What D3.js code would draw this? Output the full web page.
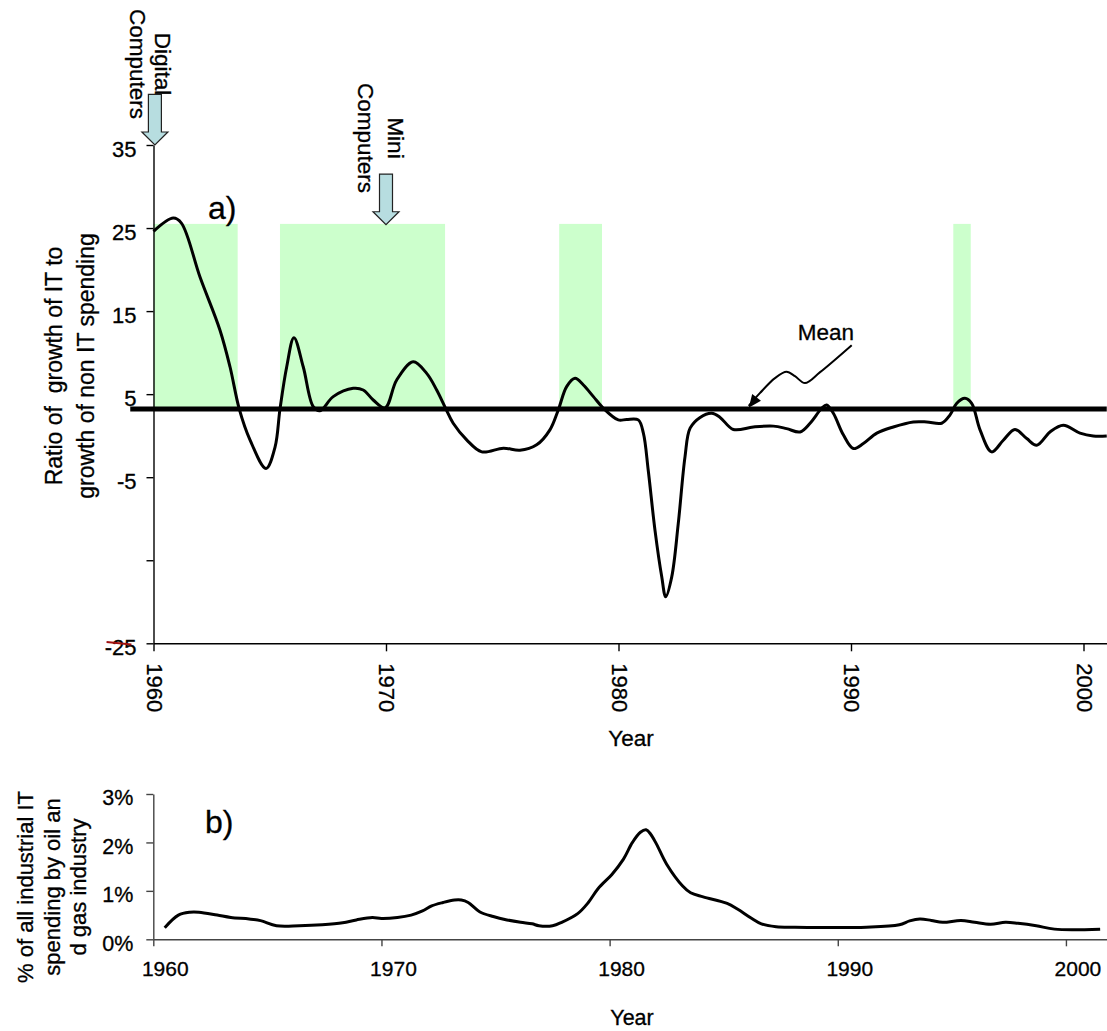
<!DOCTYPE html>
<html>
<head>
<meta charset="utf-8">
<script src="https://cdn.jsdelivr.net/npm/d3@7"></script>
<style>
body { margin: 0; background: #fff; }
svg text { font-family: "Liberation Sans", Arial, sans-serif; fill: #000; white-space: pre;
  stroke: #000; stroke-width: 0.3px; }
</style>
</head>
<body>
<div id="content"></div>
<script>
const W = 1107, H = 1031;

// ---- panel a) ratio of IT growth to non-IT growth
const yearsA = [1960.0, 1960.85, 1961.2, 1962.0, 1962.86, 1963.29, 1963.69, 1964.15, 1964.84, 1965.23,
  1965.44, 1965.73, 1966.04, 1966.44, 1966.87, 1967.16, 1967.73, 1968.59, 1969.02, 1969.45,
  1969.96, 1970.46, 1971.17, 1971.75, 1972.18, 1972.58, 1972.89, 1973.47, 1974.12, 1975.05,
  1975.76, 1976.48, 1977.05, 1977.41, 1977.77, 1978.13, 1978.49, 1978.92, 1979.35, 1979.99,
  1980.35, 1980.85, 1981.07, 1981.28, 1981.57, 1981.86, 1982.03, 1982.29, 1982.57, 1982.86,
  1983.08, 1983.51, 1984.01, 1984.37, 1984.94, 1985.80, 1986.66, 1987.23, 1987.81, 1988.24,
  1988.74, 1988.95, 1989.24, 1989.67, 1990.10, 1990.53, 1991.11, 1991.82, 1992.68, 1993.26,
  1993.90, 1994.26, 1994.55, 1994.90, 1995.19, 1995.55, 1996.05, 1996.55, 1997.05, 1997.56,
  1997.99, 1998.56, 1999.13, 1999.85, 2000.42, 2001.0];
const ratio = [24.6, 26.2, 25.6, 19.1, 12.7, 8.3, 3.2, -0.5, -3.95, -1.35,
  3.2, 8.3, 11.8, 8.3, 3.5, 3.0, 4.7, 5.7, 5.5, 4.3,
  3.35, 6.7, 8.9, 7.5, 5.5, 3.2, 1.5, -0.5, -1.95, -1.5,
  -1.75, -1.1, 0.7, 3.1, 5.9, 6.9, 6.1, 4.7, 3.3, 1.9,
  1.95, 1.9, 0.3, -4.2, -11.4, -17.0, -19.4, -17.0, -10.6, -2.55,
  0.9, 2.2, 2.7, 2.2, 0.75, 1.05, 1.15, 0.85, 0.45, 1.5,
  3.3, 3.7, 2.7, 0.1, -1.55, -0.95, 0.3, 1.05, 1.65, 1.65,
  1.5, 2.5, 3.9, 4.5, 3.9, 0.7, -1.95, -0.55, 0.75, -0.35,
  -1.15, 0.45, 1.25, 0.3, -0.05, -0.05];
const meanRatio = 3.2;
const bandStart = [1960.0, 1965.44, 1977.45, 1994.4];
const bandEnd = [1963.62, 1972.54, 1979.29, 1995.15];
const bandTop = 25.5;
const yTicksA = [35, 25, 15, 5, -5, -15, -25];
const yLabelsA = ["35", "25", "15", "5", "-5", "", "-25"];
const xTicksA = [1960, 1970, 1980, 1990, 2000];

// arrows: year, tip value, tail value, text lines
const arrowYear = [1960.06, 1970.0];
const arrowTip = [35, 25.4];
const arrowTail = [41.1, 31.5];
const arrowText = [["Digital", "Computers"], ["Mini", "Computers"]];
const meanArrowYears = [1990.03, 1988.67, 1988.02, 1987.59, 1987.23, 1986.73, 1986.08, 1985.6];
const meanArrowVals = [10.9, 7.65, 6.33, 7.17, 7.69, 6.93, 5.12, 3.6];

// ---- panel b) oil & gas share of industrial IT spending (%)
const yearsB = [1960.5, 1961.1, 1961.6, 1962.0, 1962.8, 1963.4, 1964.2, 1964.7, 1965.4, 1966.4,
  1967.4, 1968.3, 1968.9, 1969.6, 1970.0, 1970.7, 1971.3, 1971.8, 1972.2, 1972.7,
  1973.2, 1973.5, 1973.8, 1974.3, 1974.9, 1975.5, 1976.1, 1976.6, 1976.9, 1977.5,
  1977.9, 1978.6, 1979.05, 1979.5, 1980.1, 1980.6, 1981.0, 1981.35, 1981.6, 1981.8,
  1982.05, 1982.5, 1983.2, 1983.55, 1984.1, 1985.15, 1985.6, 1986.2, 1986.65, 1987.3,
  1988.1, 1991.25, 1992.7, 1993.15, 1993.6, 1994.1, 1994.6, 1995.4, 1996.0, 1996.7,
  1997.35, 1997.9, 1998.7, 1999.5, 2001.5];
const share = [0.24, 0.50, 0.56, 0.56, 0.50, 0.45, 0.42, 0.385, 0.28, 0.28,
  0.30, 0.34, 0.40, 0.45, 0.43, 0.45, 0.50, 0.585, 0.69, 0.76,
  0.81, 0.81, 0.76, 0.57, 0.47, 0.40, 0.35, 0.32, 0.28, 0.28,
  0.35, 0.53, 0.75, 1.05, 1.34, 1.65, 2.0, 2.21, 2.26, 2.17,
  1.97, 1.55, 1.10, 0.96, 0.875, 0.74, 0.625, 0.44, 0.32, 0.26,
  0.25, 0.25, 0.30, 0.38, 0.42, 0.39, 0.35, 0.39, 0.35, 0.31,
  0.35, 0.33, 0.28, 0.21, 0.21];
const yTicksB = [0, 1, 2, 3];
const xTicksB = [1960, 1970, 1980, 1990, 2000];

let svg = d3.select("#content").append("svg")
  .attr("width", W).attr("height", H);

// scales
const xa = d3.scaleLinear().domain([1960, 2001]).range([153.5, 1106.75]);
const ya = d3.scaleLinear().domain([-25, 35]).range([643.3, 145]);
const xb = d3.scaleLinear().domain([1960, 2001.8]).range([153.3, 1107]);
const yb = d3.scaleLinear().domain([0, 3]).range([939.3, 794]);

// ================= panel a =================
let ga = svg.append("g");

ga.selectAll("rect.band")
  .data(bandStart)
  .enter().append("rect")
  .attr("class", "band")
  .attr("x", (d) => xa(d))
  .attr("width", (d, i) => xa(bandEnd[i]) - xa(d))
  .attr("y", ya(bandTop))
  .attr("height", ya(meanRatio) - ya(bandTop))
  .attr("fill", "#ccffcc");

// axes
let axYa = ga.append("g").attr("transform", "translate(" + xa(1960) + ",0)")
  .call(d3.axisLeft(ya).tickValues(yTicksA).tickSize(7).tickSizeOuter(0).tickPadding(10)
    .tickFormat((d, i) => yLabelsA[i]));
axYa.selectAll("text").style("font-size", "22px").attr("dy", "0.5em");

let axXa = ga.append("g").attr("transform", "translate(0," + ya(-25) + ")")
  .call(d3.axisBottom(xa).tickValues(xTicksA).tickSize(8).tickSizeOuter(0).tickFormat(d3.format("d")));
axXa.selectAll("text")
  .style("font-size", "22px")
  .style("text-anchor", "start")
  .attr("transform", "rotate(90)")
  .attr("x", 20).attr("y", 0).attr("dy", "0.33em");

ga.selectAll(".domain, .tick line").attr("stroke", "#000").attr("stroke-width", 1.4);

// stray red mark over the -25 label
ga.append("line")
  .attr("x1", xa(1957.98)).attr("y1", ya(-24.85))
  .attr("x2", xa(1959.05)).attr("y2", ya(-25.15))
  .attr("stroke", "#a01010").attr("stroke-width", 2);

// mean line
ga.append("line")
  .attr("x1", xa(1959.0)).attr("x2", xa(2001))
  .attr("y1", ya(meanRatio)).attr("y2", ya(meanRatio))
  .attr("stroke", "#000").attr("stroke-width", 5);

// ratio line
const lineA = d3.line()
  .x((d, i) => xa(yearsA[i]))
  .y((d) => ya(d))
  .curve(d3.curveCatmullRom.alpha(0.5));
ga.append("path")
  .datum(ratio)
  .attr("d", lineA)
  .attr("fill", "none")
  .attr("stroke", "#000")
  .attr("stroke-width", 3)
  .attr("stroke-linejoin", "round");

// block arrows with labels
arrowYear.forEach((yr, i) => {
  const cx = xa(yr), tip = ya(arrowTip[i]), tail = ya(arrowTail[i]);
  const sw = 6.5, hw = 13, hh = 13;
  const pts = [[cx - sw, tail], [cx + sw, tail], [cx + sw, tip - hh], [cx + hw, tip - hh],
    [cx, tip], [cx - hw, tip - hh], [cx - sw, tip - hh]];
  ga.append("polygon")
    .attr("points", pts.map((p) => p.join(",")).join(" "))
    .attr("fill", "#b7dde0")
    .attr("stroke", "#222")
    .attr("stroke-width", 1.2);
});

// Digital / Mini Computers (rotated text, lines stacked right to left)
const labelPos = [[155, 64, 25], [388, 138, 30]];
arrowText.forEach((lines, i) => {
  let t = ga.append("text")
    .attr("transform", "translate(" + labelPos[i][0] + "," + labelPos[i][1] + ") rotate(90)")
    .style("font-size", "22.5px")
    .style("text-anchor", "middle");
  lines.forEach((s, j) => {
    t.append("tspan").attr("x", 0).attr("y", j * labelPos[i][2]).text(s);
  });
});

ga.append("text")
  .attr("x", 208).attr("y", 219)
  .style("font-size", "32px")
  .text("a)");

// Mean annotation
const meanLine = d3.line()
  .x((d, i) => xa(meanArrowYears[i]))
  .y((d) => ya(d))
  .curve(d3.curveCatmullRom.alpha(0.5));
ga.append("path")
  .datum(meanArrowVals)
  .attr("d", meanLine)
  .attr("fill", "none")
  .attr("stroke", "#000")
  .attr("stroke-width", 2);
{
  const n = meanArrowVals.length;
  const tx = xa(meanArrowYears[n - 1]), ty = ya(meanArrowVals[n - 1]) + 2;
  const px = xa(meanArrowYears[n - 2]), py = ya(meanArrowVals[n - 2]);
  const ang = Math.atan2(ty - py, tx - px);
  const L = 13, Wd = 5.5;
  const bx = tx - L * Math.cos(ang), by = ty - L * Math.sin(ang);
  const pts = [[tx, ty],
    [bx + Wd * Math.sin(ang), by - Wd * Math.cos(ang)],
    [bx - Wd * Math.sin(ang), by + Wd * Math.cos(ang)]];
  ga.append("polygon").attr("points", pts.map((p) => p.join(",")).join(" ")).attr("fill", "#000");
}
ga.append("text")
  .attr("x", 826).attr("y", 340)
  .style("font-size", "22.5px")
  .style("text-anchor", "middle")
  .text("Mean");

// axis titles
let tA = ga.append("text")
  .attr("transform", "translate(0,366) rotate(-90)")
  .style("font-size", "23px")
  .style("text-anchor", "middle");
tA.append("tspan").attr("x", 0).attr("y", 62).text("Ratio of  growth of IT to");
tA.append("tspan").attr("x", 0).attr("y", 94).text("growth of non IT spending");

ga.append("text")
  .attr("x", 631).attr("y", 746)
  .style("font-size", "22.5px")
  .style("text-anchor", "middle")
  .text("Year");

// ================= panel b =================
let gb = svg.append("g");

let axYb = gb.append("g").attr("transform", "translate(" + xb(1960) + ",0)")
  .call(d3.axisLeft(yb).tickValues(yTicksB).tickSize(7).tickSizeOuter(0).tickPadding(13)
    .tickFormat((d) => d + "%"));
axYb.selectAll("text").style("font-size", "21.5px").attr("dy", "0.5em");

let axXb = gb.append("g").attr("transform", "translate(0," + yb(0) + ")")
  .call(d3.axisBottom(xb).tickValues(xTicksB).tickSize(7).tickSizeOuter(0).tickPadding(14)
    .tickFormat(d3.format("d")));
axXb.selectAll("text").style("font-size", "21px").attr("dx", 11.5).attr("dy", "0.75em");

gb.selectAll(".domain, .tick line").attr("stroke", "#444").attr("stroke-width", 1.4);

const lineB = d3.line()
  .x((d, i) => xb(yearsB[i]))
  .y((d) => yb(d))
  .curve(d3.curveCatmullRom.alpha(0.5));
gb.append("path")
  .datum(share)
  .attr("d", lineB)
  .attr("fill", "none")
  .attr("stroke", "#000")
  .attr("stroke-width", 3)
  .attr("stroke-linejoin", "round");

gb.append("text")
  .attr("x", 205).attr("y", 833)
  .style("font-size", "32px")
  .text("b)");

let tB = gb.append("text")
  .attr("transform", "translate(0,887) rotate(-90)")
  .style("font-size", "22px")
  .style("text-anchor", "middle");
tB.append("tspan").attr("x", 0).attr("y", 33).text("% of all industrial IT");
tB.append("tspan").attr("x", 0).attr("y", 60).text("spending by oil an");
tB.append("tspan").attr("x", 0).attr("y", 86).text("d gas industry");

gb.append("text")
  .attr("x", 632).attr("y", 1025)
  .style("font-size", "21.5px")
  .style("text-anchor", "middle")
  .text("Year");
</script>
</body>
</html>
